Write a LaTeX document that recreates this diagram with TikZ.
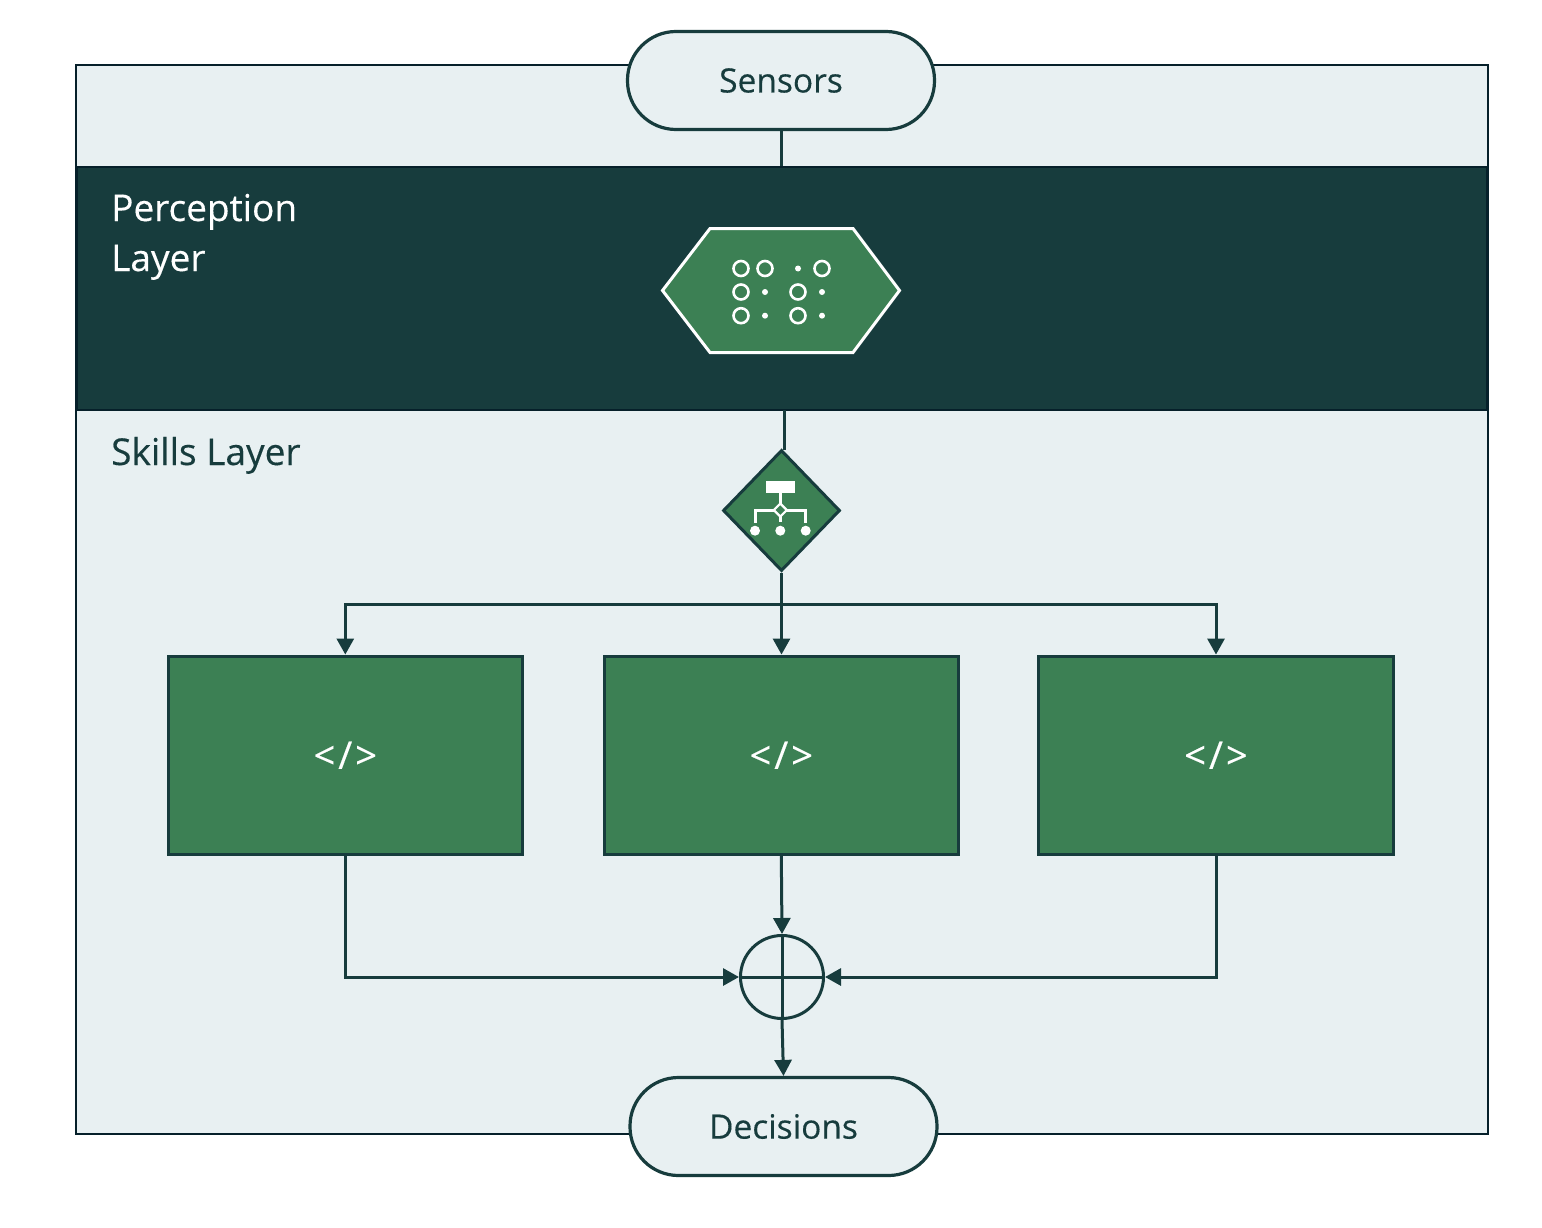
\documentclass[tikz,border=0pt]{standalone}
\usepackage{fontspec}
\setmainfont[FakeBold=0.3]{Open Sans}
\usetikzlibrary{arrows.meta,shapes.geometric}
\definecolor{ink}{HTML}{173C3D}
\definecolor{deep}{HTML}{06202A}
\definecolor{pale}{HTML}{E8F0F2}
\definecolor{leaf}{HTML}{3C8054}
\tikzset{
  frameline/.style={draw=deep,line width=2pt},
  pill/.style={draw=ink,line width=3.2pt,fill=pale,rectangle,rounded corners=48.5pt,minimum width=307pt,minimum height=98pt,inner sep=0pt,text=ink,font=\fontsize{33.5}{40}\selectfont},
  skillbox/.style={draw=ink,line width=3pt,fill=leaf,rectangle,minimum width=354.5pt,minimum height=198.5pt,inner sep=0pt,text=white,font=\fontsize{38}{44}\selectfont},
  conn/.style={draw=ink,line width=3pt},
  arr/.style={conn,-{Triangle[width=17pt,length=16pt]}},
  layertext/.style={anchor=base west,inner sep=0pt,font=\fontsize{37}{40}\selectfont},
  ring/.style={draw=white,line width=2.6pt,fill=none},
  iconline/.style={draw=white,line width=3pt},
}
\begin{document}
\begin{tikzpicture}[x=1pt,y=-1pt]
\useasboundingbox (0,0) rectangle (1542,1228);
\fill[white] (0,0) rectangle (1542,1228);
\node[frameline,fill=pale,rectangle,minimum width=1412pt,minimum height=1069pt,inner sep=0pt] (outer) at (782,599.5) {};
\node[frameline,fill=ink,rectangle,minimum width=1410pt,minimum height=243pt,inner sep=0pt] (band) at (781.5,288.5) {};
\node[pill] (sensors) at (781,80.5) {Sensors};
\node[pill] (decisions) at (783.5,1126.5) {Decisions};
\node[layertext,text=white] (plabel1) at (111,221) {Perception};
\node[layertext,text=white] (plabel2) at (111,271) {Layer};
\node[layertext,text=ink] (slabel) at (111,465) {Skills Layer};
% hexagon
\draw[draw=white,line width=3pt,fill=leaf,line join=miter] (662.5,290.5) -- (710,228.5) -- (853,228.5) -- (899.5,290.5) -- (853,352.5) -- (710,352.5) -- cycle;
\foreach \x/\y in {741/268.5,765/268.5,822/268.5,741/292,798/292,741/315.7,798/315.7}
  \draw[ring] (\x,\y) circle (7.5pt);
\foreach \x/\y in {798/268.5,765/292,822/292,765/315.7,822/315.7}
  \fill[white] (\x,\y) circle (3pt);
% diamond
\node[diamond,draw=ink,line width=3pt,fill=leaf,minimum width=117pt,minimum height=121pt,inner sep=0pt,aspect=1] (gate) at (781.5,510.5) {};
\fill[white] (766,481.3) rectangle (794.7,493.3);
\draw[iconline] (780.3,493) -- (780.3,522);
\draw[iconline] (755,522.7) -- (755,510) -- (805.7,510) -- (805.7,522.7);
\draw[draw=white,line width=2.2pt,fill=leaf] (780.3,503.5) -- (786.8,510) -- (780.3,516.5) -- (773.8,510) -- cycle;
\foreach \x in {755,780.3,805.7}
  \fill[white] (\x,530.7) circle (5pt);
% skill boxes
\node[skillbox] (s1) at (345.3,755.3) {<\kern3pt/\kern3pt>};
\node[skillbox] (s2) at (781.3,755.3) {<\kern3pt/\kern3pt>};
\node[skillbox] (s3) at (1216,755.3) {<\kern3pt/\kern3pt>};
% merge
\node[circle,draw=ink,line width=3pt,fill=none,minimum size=83pt,inner sep=0pt] (merge) at (782,977) {};
\draw[conn] (merge.west) -- (merge.east);
\draw[conn] (merge.north) -- (merge.south);
% connectors
\draw[conn] (sensors.south) -- (sensors.south |- band.north);
\coordinate (bandout) at (784,410);
\coordinate (gatein) at (784,450);
\draw[conn] (bandout) -- (gatein);
\coordinate (bus) at (781,604);
\draw[arr] (gate.south) -- (gate.south |- s2.north);
\draw[arr] (bus) -| (s1.north);
\draw[arr] (bus) -| (s3.north);
\draw[arr] (s1.south) |- (merge.west);
\draw[arr] (s3.south) |- (merge.east);
\draw[arr] (s2.south) -- (merge.north);
\draw[arr] (merge.south) -- (decisions.north);
\end{tikzpicture}
\end{document}
